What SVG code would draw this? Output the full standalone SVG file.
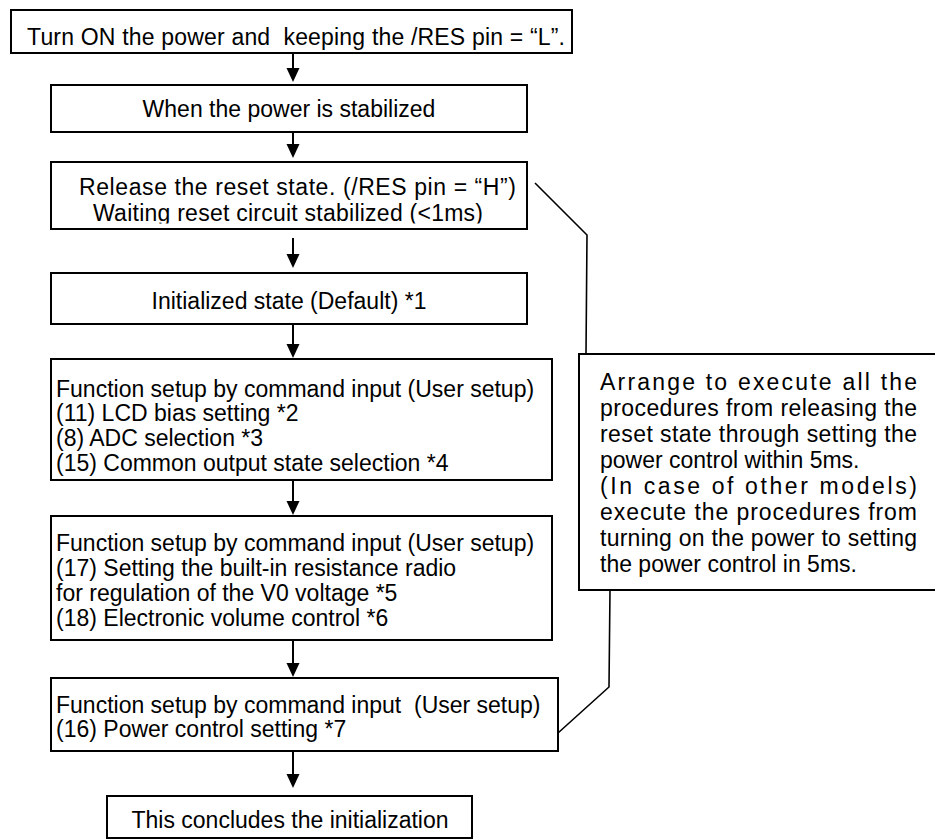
<svg xmlns="http://www.w3.org/2000/svg" width="935" height="840" viewBox="0 0 935 840">
<style>
.box{fill:#fff;stroke:#000;stroke-width:2}
.t{font-family:"Liberation Sans",Arial,sans-serif;font-size:23px;fill:#000}
.c{text-anchor:middle}
.arr{stroke:#000;stroke-width:2;fill:none;marker-end:url(#ah)}
.ln{stroke:#000;stroke-width:1.6;fill:none}
</style>
<defs>
<marker id="ah" viewBox="0 0 14 14" refX="9" refY="7" markerWidth="14" markerHeight="14" markerUnits="userSpaceOnUse" orient="auto">
<path d="M0,0.5 L14,7 L0,13.5 z" fill="#000"/>
</marker>
<clipPath id="clip3"><rect x="51" y="162" width="476" height="61.5"/></clipPath>
</defs>

<g id="n1">
<rect class="box" x="11" y="10" width="561" height="43"/>
<text class="t" x="27" y="45" textLength="538" lengthAdjust="spacing">Turn ON the power and&#160; keeping the /RES pin = “L”.</text>
</g>
<g id="n2">
<rect class="box" x="51" y="85" width="476" height="47"/>
<text class="t c" x="289" y="117">When the power is stabilized</text>
</g>
<g id="n3">
<rect class="box" x="51" y="162" width="476" height="67"/>
<g clip-path="url(#clip3)">
<text class="t" x="79" y="195" textLength="437" lengthAdjust="spacing">Release the reset state. (/RES pin = “H”)</text>
<text class="t" x="93" y="221" textLength="390" lengthAdjust="spacing">Waiting reset circuit stabilized (&lt;1ms)</text>
</g>
</g>
<g id="n4">
<rect class="box" x="51" y="273" width="476" height="51"/>
<text class="t c" x="289" y="309">Initialized state (Default) *1</text>
</g>
<g id="n5">
<rect class="box" x="51" y="359" width="501" height="121"/>
<text class="t" x="56" y="397">Function setup by command input (User setup)</text>
<text class="t" x="56" y="421">(11) LCD bias setting *2</text>
<text class="t" x="56" y="446">(8) ADC selection *3</text>
<text class="t" x="56" y="471">(15) Common output state selection *4</text>
</g>
<g id="n6">
<rect class="box" x="51" y="516" width="501" height="124"/>
<text class="t" x="56" y="551">Function setup by command input (User setup)</text>
<text class="t" x="56" y="576">(17) Setting the built-in resistance radio</text>
<text class="t" x="56" y="601">for regulation of the V0 voltage *5</text>
<text class="t" x="56" y="626">(18) Electronic volume control *6</text>
</g>
<g id="n7">
<rect class="box" x="51" y="678" width="507" height="73"/>
<text class="t" x="56" y="713">Function setup by command input&#160; (User setup)</text>
<text class="t" x="56" y="737">(16) Power control setting *7</text>
</g>
<g id="n8">
<rect class="box" x="107" y="796" width="365" height="42"/>
<text class="t c" x="290" y="828">This concludes the initialization</text>
</g>
<g id="note">
<rect class="box" x="579" y="354" width="370" height="236"/>
<text class="t" x="600" y="390" textLength="317" lengthAdjust="spacing">Arrange to execute all the</text>
<text class="t" x="600" y="416" textLength="317" lengthAdjust="spacing">procedures from releasing the</text>
<text class="t" x="600" y="442" textLength="317" lengthAdjust="spacing">reset state through setting the</text>
<text class="t" x="600" y="468">power control within 5ms.</text>
<text class="t" x="600" y="494" textLength="317" lengthAdjust="spacing">(In case of other models)</text>
<text class="t" x="600" y="520" textLength="317" lengthAdjust="spacing">execute the procedures from</text>
<text class="t" x="600" y="546" textLength="317" lengthAdjust="spacing">turning on the power to setting</text>
<text class="t" x="600" y="572">the power control in 5ms.</text>
</g>

<g id="connectors">
<line class="arr" x1="293" y1="53" x2="293" y2="77"/>
<line class="arr" x1="293" y1="132" x2="293" y2="153"/>
<line class="arr" x1="293" y1="238" x2="293" y2="263"/>
<line class="arr" x1="293" y1="324" x2="293" y2="353"/>
<line class="arr" x1="293" y1="480" x2="293" y2="510"/>
<line class="arr" x1="293" y1="640" x2="293" y2="672"/>
<line class="arr" x1="293" y1="751" x2="293" y2="783"/>
<polyline class="ln" points="535,183 587,235 586,354"/>
<polyline class="ln" points="610,590 609,687 558,733"/>
</g>
</svg>
